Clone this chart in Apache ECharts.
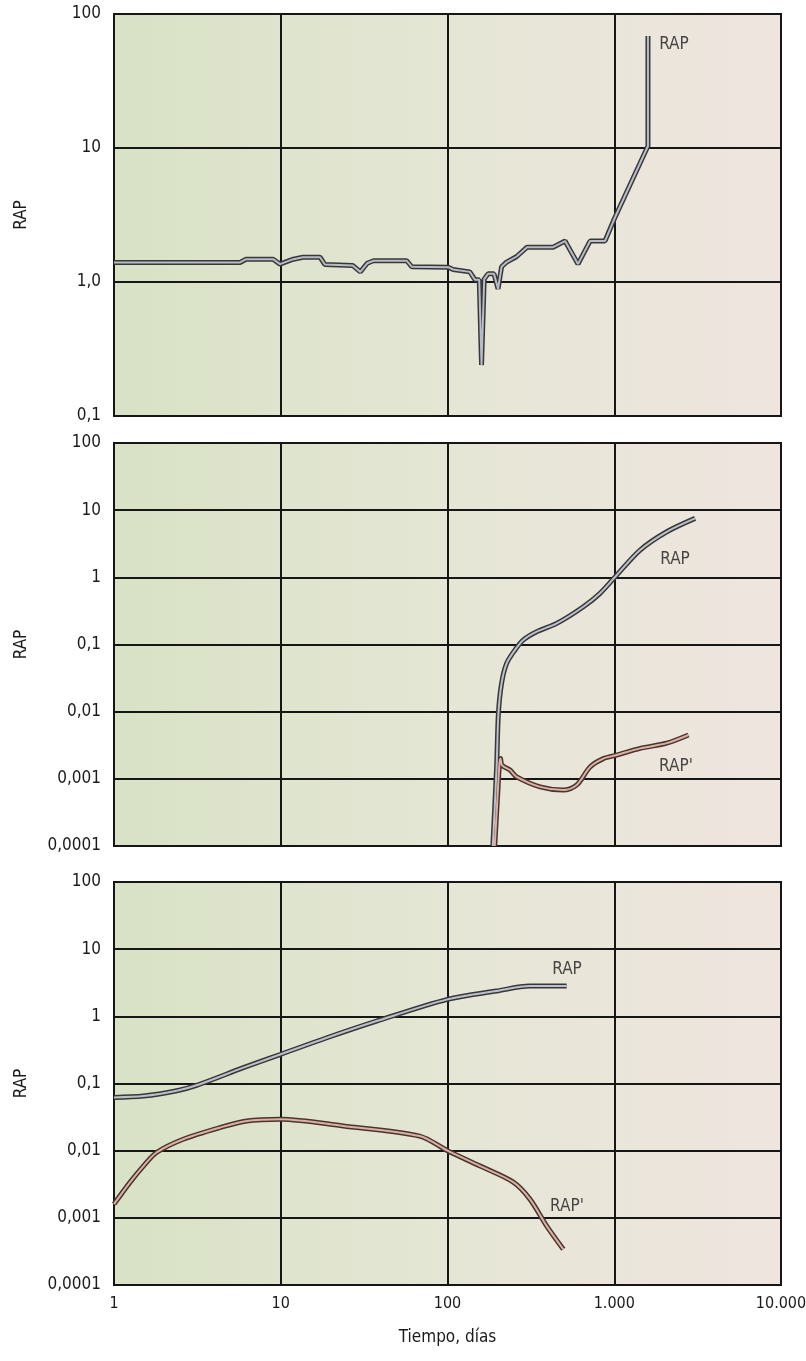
<!DOCTYPE html>
<html lang="es">
<head>
  <meta charset="UTF-8">
  <title>RAP vs Tiempo</title>
  <script src="https://cdn.jsdelivr.net/npm/echarts@6.0.0/dist/echarts.min.js"></script>
  <style>
    body { margin: 0; padding: 0; background: #fff; }
    #chart { width: 806px; height: 1361px; }
  </style>
</head>
<body>
<div id="chart"></div>
<script>
  // tick labels (Spanish number format)
  const xTickLabels = ['1', '10', '100', '1.000', '10.000'];
  const yTickLabelsTop = ['0,1', '1,0', '10', '100'];
  const yTickLabels = ['0,0001', '0,001', '0,01', '0,1', '1', '10', '100'];

  // panel 1: RAP  [días, RAP]
  const rapTop = [
    [1, 1.4], [5.7, 1.4], [6.2, 1.48], [9, 1.48], [9.9, 1.36], [11.9, 1.48], [13.6, 1.53],
    [17.2, 1.53], [18.4, 1.35], [27, 1.33], [30, 1.19], [33, 1.38], [36, 1.44], [57, 1.44],
    [61, 1.3], [101, 1.29], [108, 1.24], [136, 1.19], [146, 1.04], [155, 1.04], [160, 0.24],
    [166, 1.05], [175, 1.15], [190, 1.15], [201, 0.89], [211, 1.3], [225, 1.4], [260, 1.55],
    [300, 1.82], [430, 1.82], [507, 2.02], [606, 1.36], [716, 2.02], [880, 2.02], [1000, 2.95],
    [1593, 10.35], [1593, 68.5]
  ];

  // panel 2
  const rapMid = [
    [187, 0.0001], [197, 0.0015], [202, 0.0094], [211, 0.0264], [226, 0.052], [254, 0.083],
    [285, 0.117], [343, 0.155], [452, 0.206], [653, 0.365], [822, 0.578], [1035, 1.08],
    [1430, 2.55], [2065, 4.77], [3054, 7.55]
  ];
  const rapPrimeMid = [
    [192, 0.0001], [200, 0.0006], [205, 0.0017], [208, 0.002], [212, 0.0016], [237, 0.00135],
    [260, 0.00107], [359, 0.00076], [495, 0.00068], [596, 0.00081], [716, 0.0015], [860, 0.002],
    [1035, 0.00226], [1430, 0.00284], [2065, 0.0034], [2786, 0.0045]
  ];

  // panel 3
  const rapBottom = [
    [1, 0.062], [1.5, 0.065], [2.38, 0.078], [3.13, 0.094], [5.97, 0.172], [10, 0.272],
    [18.9, 0.48], [37.6, 0.85], [100, 1.79], [197, 2.38], [312, 2.82], [518, 2.82]
  ];
  const rapPrimeBottom = [
    [1, 0.0016], [1.25, 0.0034], [1.5, 0.0059], [1.8, 0.0094], [2.6, 0.0148], [4.3, 0.022],
    [6.25, 0.0277], [10, 0.0293], [23.7, 0.0233], [68, 0.0165], [100, 0.01], [157, 0.0059],
    [248, 0.0034], [312, 0.0019], [393, 0.00076], [495, 0.00034]
  ];

  // curve labels [grid, días, RAP, text]
  const curveLabels = [
    [0, 2281, 58.7, 'RAP'],
    [1, 2314, 1.81, 'RAP'],
    [1, 2345, 0.0015, "RAP'"],
    [2, 521, 5.0, 'RAP'],
    [2, 521, 0.00149, "RAP'"]
  ];

  const FONT = "'Liberation Sans Narrow', 'Arial Narrow', 'DejaVu Sans Condensed', sans-serif";
  const TEXT = '#1a1a1a';
  const GRIDLINE = '#161616';

  const chart = echarts.init(document.getElementById('chart'));

  const bg = new echarts.graphic.LinearGradient(0, 0, 1, 0, [
    { offset: 0, color: '#d8e2c5' },
    { offset: 0.5, color: '#e5e6d5' },
    { offset: 1, color: '#efe5df' }
  ]);

  const gridTops = [14, 443, 882];
  const gridHeights = [402, 403, 403];

  const grids = gridTops.map((t, i) => ({
    left: 114, top: t, width: 667, height: gridHeights[i],
    outerBoundsMode: 'none', containLabel: false,
    show: true, backgroundColor: bg, borderColor: GRIDLINE, borderWidth: 2
  }));

  const xAxes = gridTops.map((t, i) => ({
    type: 'log', logBase: 10, min: 1, max: 10000, interval: 1, gridIndex: i,
    axisLine: { show: true, lineStyle: { color: GRIDLINE, width: 2 } },
    axisTick: { show: false },
    splitLine: { show: true, lineStyle: { color: GRIDLINE, width: 2 } },
    axisLabel: {
      show: i === 2, margin: 11, color: TEXT, fontFamily: FONT, fontSize: 16,
      formatter: v => xTickLabels[Math.round(Math.log10(v))]
    },
    name: i === 2 ? 'Tiempo, días' : '',
    nameLocation: 'middle', nameGap: 44,
    nameTextStyle: { color: TEXT, fontFamily: FONT, fontSize: 17 }
  }));

  const yAxes = gridTops.map((t, i) => ({
    type: 'log', logBase: 10, gridIndex: i,
    min: i === 0 ? 0.1 : 0.0001, max: 100, interval: 1,
    axisLine: { show: true, lineStyle: { color: GRIDLINE, width: 2 } },
    axisTick: { show: false },
    splitLine: { show: true, lineStyle: { color: GRIDLINE, width: 2 } },
    axisLabel: {
      margin: 13, color: TEXT, fontFamily: FONT, fontSize: 17,
      formatter: v => {
        const e = Math.round(Math.log10(v));
        return i === 0 ? yTickLabelsTop[e + 1] : yTickLabels[e + 4];
      }
    },
    name: 'RAP', nameLocation: 'middle', nameGap: 84, nameRotate: 90,
    nameTextStyle: { color: TEXT, fontFamily: FONT, fontSize: 17 }
  }));

  // cased line: dark outer stroke + light inner stroke
  function cased(data, gi, outer, inner, smooth) {
    const base = {
      type: 'line', xAxisIndex: gi, yAxisIndex: gi, data: data,
      showSymbol: false, symbol: 'none', smooth: smooth, silent: true
    };
    return [
      Object.assign({}, base, { lineStyle: { color: outer, width: 5 }, z: 3 }),
      Object.assign({}, base, { lineStyle: { color: inner, width: 2 }, z: 4 })
    ];
  }

  const series = [].concat(
    cased(rapTop, 0, '#383838', '#b8bbc8', false),
    cased(rapMid, 1, '#383838', '#bcc0cd', 0.3),
    cased(rapPrimeMid, 1, '#4a3530', '#dcb0a3', 0.3),
    cased(rapBottom, 2, '#383838', '#bcc0cd', 0.3),
    cased(rapPrimeBottom, 2, '#4a3530', '#dcb0a3', 0.3)
  );

  // curve labels as a scatter of text only
  [0, 1, 2].forEach(gi => {
    series.push({
      type: 'scatter', xAxisIndex: gi, yAxisIndex: gi, silent: true,
      symbolSize: 0,
      data: curveLabels.filter(l => l[0] === gi).map(l => ({ value: [l[1], l[2]], name: l[3] })),
      label: {
        show: true, position: 'inside', formatter: '{b}',
        color: TEXT, fontFamily: FONT, fontSize: 17
      }
    });
  });

  chart.setOption({
    animation: false,
    grid: grids,
    xAxis: xAxes,
    yAxis: yAxes,
    series: series
  });
</script>
</body>
</html>
